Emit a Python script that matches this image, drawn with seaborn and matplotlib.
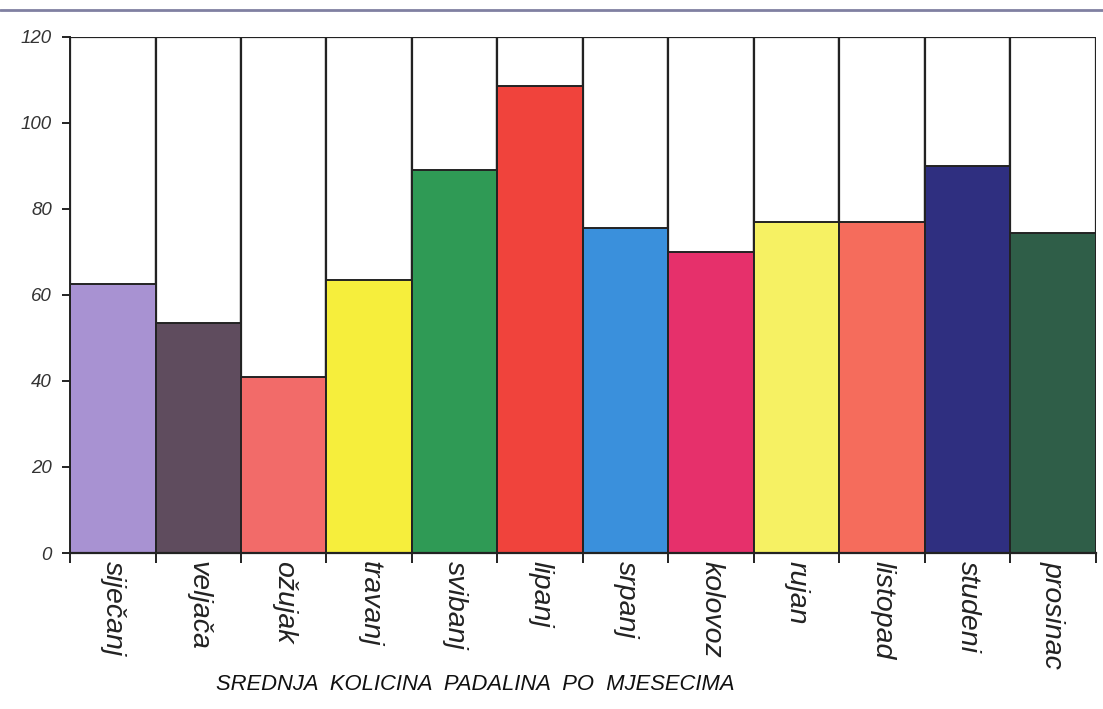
import matplotlib
matplotlib.use("Agg")
import matplotlib.pyplot as plt
from matplotlib.lines import Line2D
import seaborn as sns
import pandas as pd
import numpy as np

# monthly mean precipitation
months = ["siječanj", "veljača", "ožujak", "travanj", "svibanj", "lipanj",
          "srpanj", "kolovoz", "rujan", "listopad", "studeni", "prosinac"]
rain = [62.5, 53.5, 41, 63.5, 89, 108.5, 75.5, 70, 77, 77, 90, 74.5]
frame_top = [120] * 12
colors = ["#a892d2", "#5f4c5e", "#f26b69", "#f6ee3c", "#2f9a55", "#f0433c",
          "#3a90dc", "#e6306b", "#f6f163", "#f56c5c", "#2f2f80", "#2f5e48"]

df = pd.DataFrame({"month": months, "rain": rain, "top": frame_top})

sns.set_style("white")
plt.rcParams["font.family"] = ["Liberation Sans", "DejaVu Sans"]

fig = plt.figure(figsize=(11.03, 7.09), dpi=100)
ax = fig.add_axes([0.0635, 0.22, 0.93, 0.728])

# white frames up to 120, then the coloured bars
sns.barplot(data=df, x="month", y="top", color="white", width=1.0,
            edgecolor="#222222", linewidth=1.6, ax=ax)
sns.barplot(data=df, x="month", y="rain", hue="month", palette=colors,
            width=1.0, edgecolor="#222222", linewidth=1.4, legend=False,
            saturation=1, ax=ax)

ax.set_xlim(-0.5, 11.5)
ax.set_ylim(0, 120)
ax.set_xlabel("")
ax.set_ylabel("")
ax.set_yticks(range(0, 121, 20))
ax.set_yticklabels([str(v) for v in range(0, 121, 20)],
                   fontstyle="italic", fontsize=13.5, color="#333333")

# ticks at bar boundaries, labels centred under the bars
ax.set_xticks(np.arange(-0.5, 12, 1.0))
ax.set_xticklabels([])
ax.set_xticks(np.arange(12), minor=True)
ax.set_xticklabels(months, minor=True, rotation=270, fontstyle="italic",
                   fontsize=20.5, color="#222222", va="top")
ax.tick_params(axis="x", which="minor", length=0, pad=6)
ax.tick_params(axis="x", which="major", length=7, width=1.4, color="#222222",
               direction="out", bottom=True)
ax.tick_params(axis="y", length=6, width=1.4, color="#222222",
               direction="out", left=True, pad=7)

for side in ["top", "right"]:
    ax.spines[side].set_visible(False)
ax.spines["left"].set_color("#222222")
ax.spines["left"].set_linewidth(1.4)
ax.spines["bottom"].set_color("#222222")
ax.spines["bottom"].set_linewidth(1.6)

fig.text(0.431, 0.035, "SREDNJA  KOLICINA  PADALINA  PO  MJESECIMA",
         ha="center", va="center", fontsize=15.8, fontstyle="italic",
         color="#111111")

# header rule of the scanned slide
fig.add_artist(Line2D([0.0, 1.0], [0.986, 0.986], color="#4a4a7a",
                      linewidth=2, alpha=0.7, transform=fig.transFigure))

fig.savefig("out.png", dpi=100)
